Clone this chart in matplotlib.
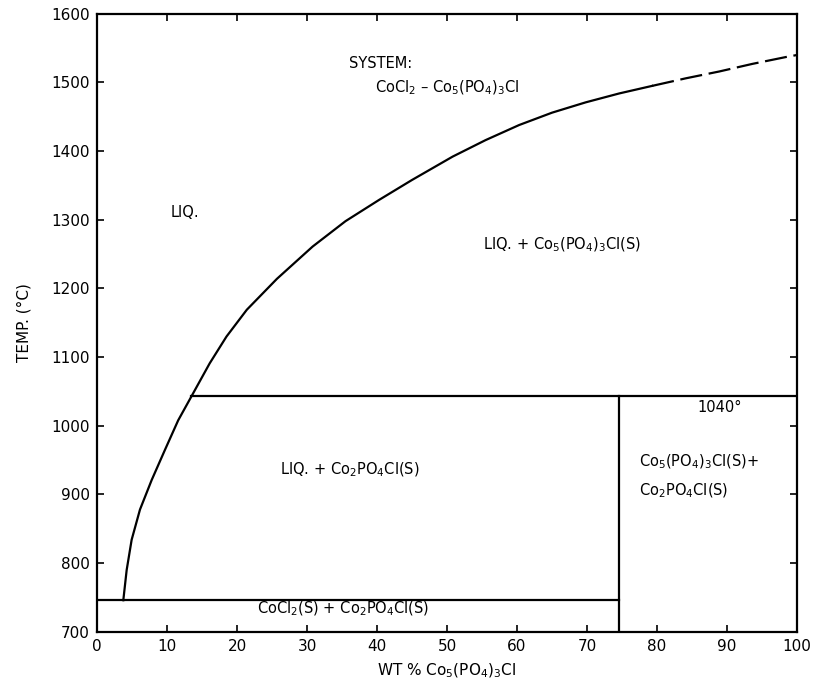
import matplotlib
matplotlib.use("Agg")
import matplotlib.pyplot as plt

plt.rcParams['font.family'] = ['DejaVu Sans']

# Liquidus of Co5(PO4)3Cl (solid part)
liq_x = [3.76, 4.24, 4.95, 6.14, 7.81, 9.71, 11.6, 13.5, 16.1, 18.5, 21.4, 25.7,
         30.8, 35.5, 40.3, 45.0, 50.8, 55.5, 60.3, 65.0, 69.8, 74.6, 79.3]
liq_t = [746, 790, 834, 878, 921, 965, 1008, 1043, 1091, 1130, 1169, 1214,
         1261, 1298, 1329, 1358, 1392, 1416, 1438, 1456, 1471, 1484, 1495]
# Liquidus (dashed, estimated part)
liqd_x = [79.3, 84.1, 88.9, 93.6, 98.4, 100.0]
liqd_t = [1495, 1506, 1516, 1527, 1537, 1540]

# Invariant lines
eutectic_t = 746
eutectic_x = [0, 74.6]
peritectic_t = 1043
peritectic_x = [13.5, 100]
compound_x = 74.6
compound_t = [700, 1043]

xticks = [0, 10, 20, 30, 40, 50, 60, 70, 80, 90, 100]
yticks = [700, 800, 900, 1000, 1100, 1200, 1300, 1400, 1500, 1600]

fig = plt.figure(figsize=(8.15, 6.89), dpi=100)
ax = fig.add_axes([0.119, 0.083, 0.859, 0.897])

lw = 1.6
ax.plot(liq_x, liq_t, color='black', lw=lw, solid_joinstyle='round')
ax.plot(liqd_x, liqd_t, color='black', lw=lw, ls=(0, (10, 3)))
ax.plot(eutectic_x, [eutectic_t, eutectic_t], color='black', lw=lw)
ax.plot(peritectic_x, [peritectic_t, peritectic_t], color='black', lw=lw)
ax.plot([compound_x, compound_x], compound_t, color='black', lw=lw)

ax.set_xlim(0, 100)
ax.set_ylim(700, 1600)
ax.set_xticks(xticks)
ax.set_yticks(yticks)
ax.tick_params(direction='in', top=True, right=True, labeltop=False, labelright=False,
               length=5, width=1.2, labelsize=11, pad=5)
for s in ax.spines.values():
    s.set_linewidth(1.6)

ax.set_xlabel('WT % Co$_5$(PO$_4$)$_3$Cl', fontsize=11, labelpad=6)
ax.set_ylabel('TEMP. (°C)', fontsize=11, labelpad=14)

fs = 10.5
ax.text(36.0, 1528, 'SYSTEM:', fontsize=fs, ha='left', va='center')
ax.text(50.0, 1492, 'CoCl$_2$ – Co$_5$(PO$_4$)$_3$Cl', fontsize=fs, ha='center', va='center')
ax.text(12.6, 1311, 'LIQ.', fontsize=fs, ha='center', va='center')
ax.text(66.4, 1263, 'LIQ. + Co$_5$(PO$_4$)$_3$Cl(S)', fontsize=fs, ha='center', va='center')
ax.text(36.1, 936, 'LIQ. + Co$_2$PO$_4$Cl(S)', fontsize=fs, ha='center', va='center')
ax.text(89.0, 1026, '1040°', fontsize=fs, ha='center', va='center')
ax.text(77.4, 947, 'Co$_5$(PO$_4$)$_3$Cl(S)+', fontsize=fs, ha='left', va='center')
ax.text(77.4, 906, 'Co$_2$PO$_4$Cl(S)', fontsize=fs, ha='left', va='center')
ax.text(35.2, 733, 'CoCl$_2$(S) + Co$_2$PO$_4$Cl(S)', fontsize=fs, ha='center', va='center')

fig.savefig('out.png', dpi=100)
